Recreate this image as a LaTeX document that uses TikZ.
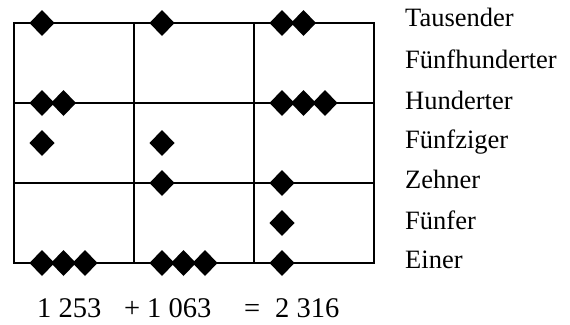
\documentclass[tikz,border=0pt]{standalone}
\usepackage{fontspec}
\setmainfont{Liberation Serif}
\usetikzlibrary{shapes.geometric}
\begin{document}
\begin{tikzpicture}[x=1pt,y=-1pt,
  grid/.style={line width=1.6pt,black},
  bead/.style={diamond,fill=black,draw=none,inner sep=0pt,outer sep=0pt,minimum width=25pt,minimum height=26pt},
  lab/.style={anchor=base west,inner sep=0pt,font=\fontsize{26.5}{30}\selectfont},
  num/.style={anchor=base west,inner sep=0pt,font=\fontsize{28.5}{30}\selectfont}]
\useasboundingbox (0,0) rectangle (570,324);
% grid
\coordinate (tl) at (14,23);
\coordinate (br) at (374,263);
\draw[grid] (tl) rectangle (br);
\coordinate (c1t) at (134,23); \coordinate (c1b) at (134,263);
\coordinate (c2t) at (254,23); \coordinate (c2b) at (254,263);
\coordinate (r1l) at (14,103); \coordinate (r1r) at (374,103);
\coordinate (r2l) at (14,183); \coordinate (r2r) at (374,183);
\draw[grid] (c1t) -- (c1b);
\draw[grid] (c2t) -- (c2b);
\draw[grid] (r1l) -- (r1r);
\draw[grid] (r2l) -- (r2r);
% column 1: 1253
\node[bead] (a1) at (42,23) {};
\node[bead] (a2) at (42,103) {};
\node[bead] (a3) at (63.5,103) {};
\node[bead] (a4) at (42,143) {};
\node[bead] (a5) at (42,263) {};
\node[bead] (a6) at (63.5,263) {};
\node[bead] (a7) at (85,263) {};
% column 2: 1063
\node[bead] (b1) at (162,23) {};
\node[bead] (b2) at (162,143) {};
\node[bead] (b3) at (162,183) {};
\node[bead] (b4) at (162,263) {};
\node[bead] (b5) at (183.5,263) {};
\node[bead] (b6) at (205,263) {};
% column 3: 2316
\node[bead] (e1) at (282,23) {};
\node[bead] (e2) at (303.5,23) {};
\node[bead] (e3) at (282,103) {};
\node[bead] (e4) at (303.5,103) {};
\node[bead] (e5) at (325,103) {};
\node[bead] (e6) at (282,183) {};
\node[bead] (e7) at (282,223) {};
\node[bead] (e8) at (282,263) {};
% labels
\node[lab] (l1) at (405,27) {Tausender};
\node[lab] (l2) at (405,68) {Fünfhunderter};
\node[lab] (l3) at (405,109) {Hunderter};
\node[lab] (l4) at (405,148) {Fünfziger};
\node[lab] (l5) at (405,188) {Zehner};
\node[lab] (l6) at (405,229) {Fünfer};
\node[lab] (l7) at (405,268) {Einer};
% sum
\node[num] (n1) at (37,317) {1 253};
\node[num] (plus) at (124,317) {+};
\node[num] (n2) at (147,317) {1 063};
\node[num] (eq) at (244,317) {=};
\node[num] (n3) at (275,317) {2 316};
\end{tikzpicture}
\end{document}
